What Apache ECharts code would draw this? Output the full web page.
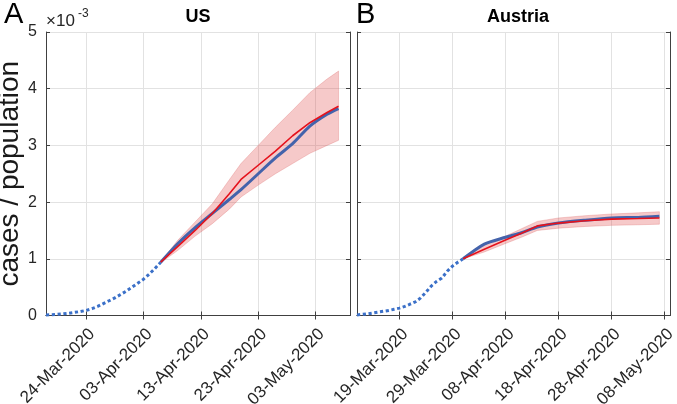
<!DOCTYPE html>
<html>
<head>
<meta charset="utf-8">
<script src="https://cdn.jsdelivr.net/npm/echarts@6/dist/echarts.min.js"></script>
<style>
  html, body { margin: 0; padding: 0; background: #fff; }
  #chart { width: 677px; height: 404px; }
</style>
</head>
<body>
<div id="chart"></div>
<script>
// ---- data (values in units of 1e-3 cases / population) ----
const usObsDates = ['2020-03-17','2020-03-18','2020-03-19','2020-03-20','2020-03-21','2020-03-22','2020-03-23',
  '2020-03-24','2020-03-25','2020-03-26','2020-03-27','2020-03-28','2020-03-29','2020-03-30','2020-03-31',
  '2020-04-01','2020-04-02','2020-04-03','2020-04-04','2020-04-05','2020-04-06'];
const usObs = [0.01,0.015,0.02,0.03,0.04,0.055,0.07,0.09,0.12,0.16,0.21,0.26,0.31,0.37,0.43,0.50,0.57,0.64,0.73,0.83,0.94];

const usModelDates = ['2020-04-06','2020-04-09','2020-04-12','2020-04-15','2020-04-18','2020-04-20',
  '2020-04-23','2020-04-26','2020-04-29','2020-05-02','2020-05-05','2020-05-07'];
const usRed  = [0.94,1.22,1.50,1.80,2.15,2.40,2.65,2.90,3.17,3.40,3.58,3.69];
const usBlue = [0.94,1.27,1.55,1.80,2.05,2.22,2.50,2.78,3.03,3.34,3.55,3.65];
const usHi   = [0.95,1.33,1.65,1.97,2.40,2.68,3.00,3.32,3.62,3.93,4.17,4.31];
const usLo   = [0.93,1.15,1.40,1.62,1.88,2.09,2.30,2.50,2.68,2.86,3.00,3.09];

const atObsDates = ['2020-03-11','2020-03-12','2020-03-13','2020-03-14','2020-03-15','2020-03-16','2020-03-17',
  '2020-03-18','2020-03-19','2020-03-20','2020-03-21','2020-03-22','2020-03-23','2020-03-24','2020-03-25',
  '2020-03-26','2020-03-27','2020-03-28','2020-03-29','2020-03-30','2020-03-31'];
const atObs = [0.01,0.02,0.03,0.045,0.06,0.075,0.09,0.11,0.13,0.16,0.20,0.24,0.31,0.41,0.52,0.60,0.66,0.78,0.87,0.94,1.00];

const atModelDates = ['2020-03-31','2020-04-04','2020-04-08','2020-04-11','2020-04-14','2020-04-18',
  '2020-04-23','2020-04-28','2020-05-03','2020-05-07'];
const atRed  = [1.00,1.17,1.33,1.45,1.58,1.63,1.67,1.70,1.71,1.72];
const atBlue = [1.00,1.26,1.38,1.46,1.56,1.63,1.68,1.72,1.73,1.75];
const atHi   = [1.00,1.25,1.40,1.53,1.66,1.72,1.76,1.79,1.81,1.83];
const atLo   = [1.00,1.12,1.27,1.38,1.50,1.54,1.57,1.59,1.60,1.61];

const usTicks = ['2020-03-24','2020-04-03','2020-04-13','2020-04-23','2020-05-03'];
const atTicks = ['2020-03-19','2020-03-29','2020-04-08','2020-04-18','2020-04-28','2020-05-08'];
const usRange = ['2020-03-17','2020-05-09'];
const atRange = ['2020-03-11','2020-05-09'];

// ---- helpers ----
const FONT = '"Liberation Sans", Arial, Helvetica, sans-serif';
const MONTHS = ['Jan','Feb','Mar','Apr','May','Jun','Jul','Aug','Sep','Oct','Nov','Dec'];
const dayNum = s => { const p = s.split('-').map(Number); return Date.UTC(p[0], p[1] - 1, p[2]) / 864e5; };
const fmtDay = v => {
  const d = new Date(Math.round(v) * 864e5);
  return String(d.getUTCDate()).padStart(2, '0') + '-' + MONTHS[d.getUTCMonth()] + '-' + d.getUTCFullYear();
};
const pairs = (dates, vals) => dates.map((d, i) => [dayNum(d), vals[i]]);

const AXIS_COLOR = '#404040';
const GRID_COLOR = '#e2e2e2';

function xAxes(gi, range, ticks) {
  const vals = ticks.map(dayNum);
  const base = {
    gridIndex: gi, type: 'value', min: dayNum(range[0]), max: dayNum(range[1]),
    axisLine: { show: true, lineStyle: { color: AXIS_COLOR, width: 1 } }
  };
  return [
    Object.assign({}, base, {
      position: 'bottom',
      axisTick: { inside: true, length: 4, customValues: vals, lineStyle: { color: AXIS_COLOR } },
      axisLabel: { customValues: vals, rotate: 45, fontSize: 17, color: '#262626', fontFamily: FONT,
                   margin: 10, verticalAlign: 'top', formatter: fmtDay },
      splitLine: { show: true, lineStyle: { color: GRID_COLOR, width: 1 } }
    }),
    Object.assign({}, base, {
      position: 'top',
      axisTick: { inside: true, length: 4, customValues: vals, lineStyle: { color: AXIS_COLOR } },
      axisLabel: { show: false },
      splitLine: { show: false }
    })
  ];
}

function yAxes(gi, showLabels) {
  const base = {
    gridIndex: gi, type: 'value', min: 0, max: 5, interval: 1,
    axisLine: { show: true, lineStyle: { color: AXIS_COLOR, width: 1 } },
    axisTick: { show: true, inside: true, length: 4, lineStyle: { color: AXIS_COLOR } }
  };
  const left = Object.assign({}, base, {
    position: 'left',
    axisLabel: { show: showLabels, fontSize: 16, color: '#262626', fontFamily: FONT, margin: 9 },
    splitLine: { show: true, lineStyle: { color: GRID_COLOR, width: 1 } }
  });
  if (showLabels) {
    Object.assign(left, {
      name: 'cases / population', nameLocation: 'middle', nameGap: 15,
      nameTextStyle: { fontSize: 28, color: '#1a1a1a', fontFamily: FONT }
    });
  }
  const right = Object.assign({}, base, {
    position: 'right', axisLabel: { show: false }, splitLine: { show: false }
  });
  return [left, right];
}

function panelSeries(xi, yi, obsD, obs, mD, red, blue, lo, hi) {
  const mx = mD.map(dayNum);
  return [
    {
      type: 'custom', xAxisIndex: xi, yAxisIndex: yi, z: 2, silent: true,
      data: mx.map((x, i) => [x, lo[i], hi[i]]),
      encode: { x: 0, y: [1, 2] },
      renderItem: (params, api) => {
        if (params.dataIndex !== 0) return null;
        const pts = [];
        for (let i = 0; i < mx.length; i++) pts.push(api.coord([mx[i], hi[i]]));
        for (let i = mx.length - 1; i >= 0; i--) pts.push(api.coord([mx[i], lo[i]]));
        return {
          type: 'polygon', shape: { points: pts },
          style: { fill: 'rgba(222,60,60,0.28)', stroke: 'rgba(215,90,90,0.35)', lineWidth: 0.8 }
        };
      }
    },
    {
      type: 'line', xAxisIndex: xi, yAxisIndex: yi, z: 3, showSymbol: false,
      data: pairs(obsD, obs),
      lineStyle: { color: '#3b70c8', width: 3, type: [3.2, 2.6] }
    },
    {
      type: 'line', xAxisIndex: xi, yAxisIndex: yi, z: 4, showSymbol: false, smooth: 0.25,
      data: pairs(mD, blue),
      lineStyle: { color: '#4463ab', width: 3 }
    },
    {
      type: 'line', xAxisIndex: xi, yAxisIndex: yi, z: 5, showSymbol: false,
      data: pairs(mD, red),
      lineStyle: { color: '#e5121c', width: 1.6 }
    }
  ];
}

const chart = echarts.init(document.getElementById('chart'), null, { renderer: 'canvas' });

const option = {
  animation: false,
  backgroundColor: '#ffffff',
  textStyle: { fontFamily: FONT },
  grid: [
    { left: 46, top: 32, width: 304, height: 283.5, outerBoundsMode: 'none' },
    { left: 357, top: 32, width: 313, height: 283.5, outerBoundsMode: 'none' }
  ],
  xAxis: [].concat(xAxes(0, usRange, usTicks), xAxes(1, atRange, atTicks)),
  yAxis: [].concat(yAxes(0, true), yAxes(1, false)),
  series: [].concat(
    panelSeries(0, 0, usObsDates, usObs, usModelDates, usRed, usBlue, usLo, usHi),
    panelSeries(2, 2, atObsDates, atObs, atModelDates, atRed, atBlue, atLo, atHi)
  ),
  graphic: [
    { type: 'text', left: 4, top: 0, style: { text: 'A', font: '29px ' + FONT, fill: '#000' } },
    { type: 'text', left: 356, top: 0, style: { text: 'B', font: '29px ' + FONT, fill: '#000' } },
    { type: 'text', x: 198, y: 8, style: { text: 'US', textAlign: 'center', font: 'bold 18px ' + FONT, fill: '#000' } },
    { type: 'text', x: 518, y: 8, style: { text: 'Austria', textAlign: 'center', font: 'bold 18px ' + FONT, fill: '#000' } },
    { type: 'text', x: 46, y: 13, style: { text: '\u00d710', fontSize: 17, fontFamily: FONT, fill: '#262626' } },
    { type: 'text', x: 78, y: 8, style: { text: '-3', fontSize: 12, fontFamily: FONT, fill: '#262626' } }
  ]
};

chart.setOption(option);
window.addEventListener('resize', () => chart.resize());
</script>
</body>
</html>
